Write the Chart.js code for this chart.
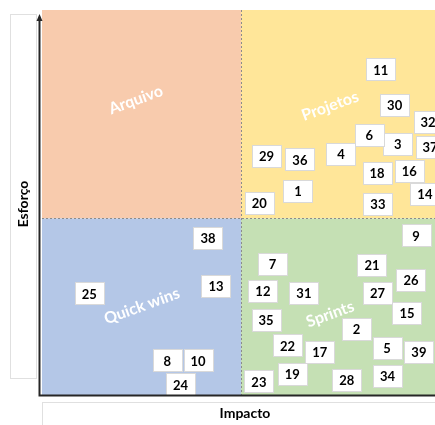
<!DOCTYPE html>
<html>
<head>
<meta charset="utf-8">
<script src="https://cdn.jsdelivr.net/npm/chart.js@4"></script>
<style>
  html, body { margin: 0; padding: 0; background: #fff; overflow: hidden; }
  #wrap { width: 435px; height: 425px; overflow: hidden; }
</style>
</head>
<body>
<div id="wrap"><canvas id="matrix-chart" width="445" height="425"></canvas></div>
<script>
// itens (numero, impacto, esforco)
const ids = [1, 2, 3, 4, 5, 6, 7, 8, 9, 10, 11, 12, 13, 14, 15, 16, 17, 18, 19, 20,
             21, 22, 23, 24, 25, 26, 27, 28, 29, 30, 31, 32, 33, 34, 35, 36, 37, 38, 39];
const impacto = [64.3, 79.0, 89.4, 75.1, 86.7, 82.2, 57.9, 31.5, 94.0, 39.2,
                 85.1, 55.5, 43.7, 96.2, 91.7, 92.3, 69.8, 84.2, 62.9, 54.6,
                 82.9, 61.7, 54.5, 34.8, 11.9, 92.7, 84.3, 76.6, 56.4, 88.6,
                 65.8, 97.0, 84.4, 86.8, 56.3, 64.8, 97.5, 41.7, 94.7];
const esforco = [53.2, 17.4, 65.4, 62.8, 12.4, 67.6, 34.3, 9.2, 41.6, 9.2,
                 84.6, 27.3, 28.6, 52.3, 21.5, 58.4, 11.4, 57.8, 5.7, 50.1,
                 33.9, 13.1, 3.8, 3.0, 26.6, 30.1, 26.8, 4.1, 62.3, 75.5,
                 26.8, 71.1, 49.7, 5.3, 19.7, 61.3, 64.5, 40.9, 11.4];

// quadrantes
const quadrantes = ['Arquivo', 'Projetos', 'Quick wins', 'Sprints'];
const quadrante_x = [23.6, 72.4, 25.1, 72.4];
const quadrante_y = [76.7, 75.1, 23.3, 21.2];
const corte_impacto = 50;
const corte_esforco = 46;

const cores = {
  arquivo: '#F8CBAD',
  projetos: '#FFE699',
  quick: '#B4C7E7',
  sprints: '#C5E0B4'
};

const quadrant_plugin = {
  id: 'quadrants',
  beforeDatasetsDraw(chart) {
    const ctx = chart.ctx;
    const a = chart.chartArea;
    const x = chart.scales.x, y = chart.scales.y;
    const mx = x.getPixelForValue(corte_impacto);
    const my = y.getPixelForValue(corte_esforco);
    ctx.save();
    ctx.fillStyle = cores.arquivo;  ctx.fillRect(a.left, a.top, mx - a.left, my - a.top);
    ctx.fillStyle = cores.projetos; ctx.fillRect(mx, a.top, a.right - mx, my - a.top);
    ctx.fillStyle = cores.quick;    ctx.fillRect(a.left, my, mx - a.left, a.bottom - my);
    ctx.fillStyle = cores.sprints;  ctx.fillRect(mx, my, a.right - mx, a.bottom - my);

    // linhas divisorias
    ctx.strokeStyle = '#8c8c8c';
    ctx.lineWidth = 1;
    ctx.setLineDash([2, 2]);
    ctx.beginPath();
    ctx.moveTo(Math.round(mx) + 0.5, a.top);
    ctx.lineTo(Math.round(mx) + 0.5, a.bottom);
    ctx.moveTo(a.left, Math.round(my) + 0.5);
    ctx.lineTo(a.right, Math.round(my) + 0.5);
    ctx.stroke();
    ctx.setLineDash([]);

    // nomes dos quadrantes
    ctx.fillStyle = '#ffffff';
    ctx.font = 'bold 16px Lato';
    ctx.textAlign = 'center';
    ctx.textBaseline = 'middle';
    quadrantes.forEach((q, i) => {
      ctx.save();
      ctx.translate(x.getPixelForValue(quadrante_x[i]), y.getPixelForValue(quadrante_y[i]));
      ctx.rotate(-20 * Math.PI / 180);
      ctx.fillText(q, 0, 0);
      ctx.restore();
    });
    ctx.restore();
  },
  afterDatasetsDraw(chart) {
    const ctx = chart.ctx;
    const meta = chart.getDatasetMeta(0);
    ctx.save();
    ctx.font = 'bold 13px Lato';
    ctx.textAlign = 'center';
    ctx.textBaseline = 'middle';
    meta.data.forEach((pt, i) => {
      const w = 29, h = 22;
      const bx = Math.round(pt.x - w / 2) + 0.5;
      const by = Math.round(pt.y - h / 2) + 0.5;
      ctx.fillStyle = '#ffffff';
      ctx.fillRect(bx, by, w, h);
      ctx.strokeStyle = '#d9d9d9';
      ctx.lineWidth = 1;
      ctx.strokeRect(bx, by, w, h);
      ctx.fillStyle = '#000000';
      ctx.fillText(String(ids[i]), pt.x, pt.y + 1);
    });
    ctx.restore();
  },
  afterDraw(chart) {
    const ctx = chart.ctx;
    const a = chart.chartArea;
    ctx.save();
    // caixas dos titulos
    ctx.strokeStyle = '#e0e0e0';
    ctx.lineWidth = 1;
    ctx.strokeRect(10.5, 14.5, 26, 364);
    ctx.strokeRect(42.5, 402.5, 420, 40);

    // eixos
    ctx.strokeStyle = '#262626';
    ctx.lineWidth = 2;
    ctx.beginPath();
    ctx.moveTo(39.5, 20);
    ctx.lineTo(39.5, a.bottom);
    ctx.moveTo(38.5, a.bottom - 0.5);
    ctx.lineTo(a.right, a.bottom - 0.5);
    ctx.stroke();
    ctx.fillStyle = '#262626';
    ctx.beginPath();
    ctx.moveTo(39.5, 14);
    ctx.lineTo(36.5, 21);
    ctx.lineTo(42.5, 21);
    ctx.closePath();
    ctx.fill();

    // titulos
    ctx.fillStyle = '#000000';
    ctx.font = 'bold 14px Lato';
    ctx.textAlign = 'center';
    ctx.textBaseline = 'middle';
    ctx.fillText('Impacto', 245, 413);
    ctx.translate(23, 204);
    ctx.rotate(-Math.PI / 2);
    ctx.fillText('Esforço', 0, 0);
    ctx.restore();
  }
};

const element = document.getElementById('matrix-chart').getContext('2d');

new Chart(element, {
  type: 'scatter',
  data: {
    datasets: [{
      label: 'Itens',
      data: ids.map((id, i) => ({ x: impacto[i], y: esforco[i] })),
      pointRadius: 0,
      pointHoverRadius: 0
    }]
  },
  options: {
    responsive: false,
    animation: false,
    layout: { padding: { left: 42, top: 10, right: 5, bottom: 29 } },
    plugins: { legend: { display: false }, tooltip: { enabled: false } },
    scales: {
      x: { display: false, min: 0, max: 100 },
      y: { display: false, min: 0, max: 100 }
    }
  },
  plugins: [quadrant_plugin]
});
</script>
</body>
</html>
